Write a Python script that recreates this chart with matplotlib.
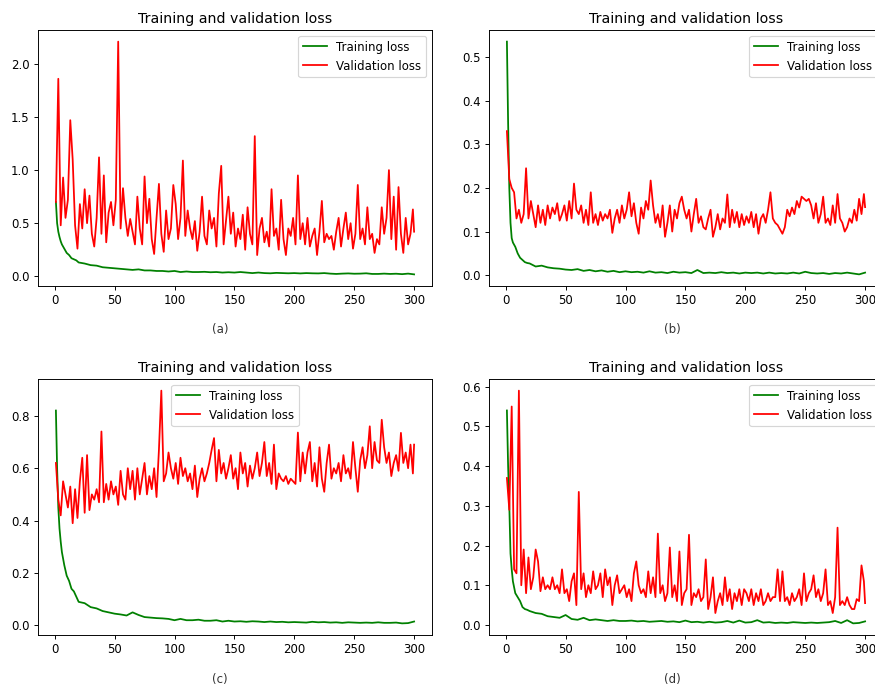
import matplotlib
matplotlib.use("Agg")
from matplotlib import pyplot as plt

# Epocas em que os valores foram lidos
val_epochs = list(range(1, 300, 2)) + [300]
train_epochs = [1, 2, 3, 4, 5, 6, 8, 10, 12, 14, 16, 18, 20] + list(range(25, 301, 5))

# (a)
train_a = [0.70, 0.50, 0.42, 0.37, 0.33, 0.30, 0.26, 0.22, 0.20, 0.17, 0.16, 0.15, 0.13,
           0.12, 0.105, 0.10, 0.085, 0.08, 0.075, 0.07, 0.065, 0.06, 0.065,
           0.055, 0.055, 0.05, 0.05, 0.045, 0.05, 0.04, 0.045, 0.04, 0.04,
           0.042, 0.038, 0.04, 0.035, 0.038, 0.035, 0.04, 0.035, 0.03, 0.035,
           0.03, 0.028, 0.032, 0.03, 0.028, 0.03, 0.027, 0.03, 0.028, 0.027,
           0.03, 0.025, 0.022, 0.025, 0.027, 0.024, 0.025, 0.028, 0.022, 0.022,
           0.025, 0.022, 0.024, 0.02, 0.025, 0.018]
val_a = [0.70, 1.86, 0.48, 0.93, 0.55, 0.72, 1.47, 1.10, 0.48, 0.26,
         0.68, 0.45, 0.82, 0.50, 0.76, 0.40, 0.28, 0.55, 1.12, 0.40,
         0.95, 0.32, 0.60, 0.70, 0.48, 0.72, 2.21, 0.45, 0.83, 0.55,
         0.38, 0.54, 0.42, 0.30, 0.75, 0.45, 0.30, 0.94, 0.50, 0.73,
         0.35, 0.21, 0.55, 0.87, 0.40, 0.23, 0.62, 0.35, 0.45, 0.86,
         0.68, 0.35, 0.55, 1.09, 0.38, 0.62, 0.45, 0.35, 0.52, 0.24,
         0.42, 0.75, 0.38, 0.30, 0.62, 0.45, 0.55, 0.28, 0.78, 1.04,
         0.30, 0.52, 0.75, 0.40, 0.60, 0.28, 0.45, 0.35, 0.58, 0.25,
         0.65, 0.40, 0.30, 1.32, 0.20, 0.45, 0.55, 0.32, 0.42, 0.28,
         0.82, 0.38, 0.45, 0.25, 0.72, 0.35, 0.20, 0.45, 0.38, 0.55,
         0.30, 0.95, 0.35, 0.50, 0.30, 0.55, 0.28, 0.38, 0.45, 0.20,
         0.42, 0.71, 0.32, 0.40, 0.35, 0.38, 0.25, 0.42, 0.55, 0.28,
         0.45, 0.60, 0.35, 0.50, 0.26, 0.40, 0.86, 0.35, 0.45, 0.30,
         0.65, 0.35, 0.40, 0.22, 0.35, 0.30, 0.65, 0.40, 0.55, 1.00,
         0.35, 0.75, 0.25, 0.84, 0.40, 0.22, 0.55, 0.30, 0.40, 0.63,
         0.42]

# (b)
train_b = [0.535, 0.35, 0.20, 0.12, 0.085, 0.075, 0.065, 0.05, 0.04, 0.035, 0.03, 0.028, 0.027,
           0.02, 0.022, 0.018, 0.016, 0.015, 0.013, 0.012, 0.014, 0.01, 0.012,
           0.009, 0.011, 0.008, 0.01, 0.007, 0.009, 0.007, 0.008, 0.006, 0.009,
           0.006, 0.007, 0.005, 0.008, 0.006, 0.007, 0.005, 0.012, 0.005, 0.006,
           0.005, 0.007, 0.005, 0.006, 0.004, 0.006, 0.005, 0.006, 0.004, 0.006,
           0.004, 0.005, 0.004, 0.006, 0.004, 0.008, 0.005, 0.004, 0.005, 0.003,
           0.005, 0.004, 0.006, 0.004, 0.002, 0.006]
val_b = [0.33, 0.22, 0.20, 0.19, 0.13, 0.15, 0.12, 0.14, 0.245, 0.13,
         0.17, 0.14, 0.11, 0.16, 0.12, 0.15, 0.115, 0.16, 0.13, 0.155,
         0.14, 0.165, 0.125, 0.14, 0.16, 0.125, 0.17, 0.13, 0.21, 0.15,
         0.14, 0.16, 0.12, 0.15, 0.115, 0.19, 0.12, 0.14, 0.115, 0.145,
         0.125, 0.14, 0.13, 0.15, 0.097, 0.13, 0.15, 0.12, 0.16, 0.13,
         0.15, 0.19, 0.135, 0.165, 0.12, 0.095, 0.155, 0.13, 0.17, 0.15,
         0.217, 0.16, 0.12, 0.14, 0.11, 0.16, 0.088, 0.12, 0.16, 0.10,
         0.15, 0.13, 0.165, 0.18, 0.15, 0.13, 0.15, 0.10, 0.14, 0.175,
         0.12, 0.135, 0.11, 0.105, 0.13, 0.15, 0.088, 0.11, 0.14, 0.105,
         0.13, 0.12, 0.185, 0.11, 0.15, 0.12, 0.145, 0.11, 0.14, 0.115,
         0.135, 0.12, 0.145, 0.11, 0.14, 0.095, 0.13, 0.14, 0.12, 0.15,
         0.19, 0.13, 0.12, 0.115, 0.105, 0.095, 0.11, 0.15, 0.135, 0.155,
         0.14, 0.17, 0.155, 0.18, 0.175, 0.17, 0.175, 0.16, 0.13, 0.165,
         0.12, 0.14, 0.18, 0.12, 0.13, 0.115, 0.16, 0.12, 0.186, 0.13,
         0.12, 0.10, 0.11, 0.13, 0.12, 0.15, 0.125, 0.175, 0.14, 0.186,
         0.156]

# (c)
train_c = [0.82, 0.60, 0.45, 0.37, 0.32, 0.28, 0.23, 0.19, 0.17, 0.14, 0.13, 0.11, 0.09,
           0.085, 0.07, 0.065, 0.055, 0.05, 0.045, 0.042, 0.038, 0.05, 0.04,
           0.032, 0.03, 0.028, 0.027, 0.025, 0.02, 0.025, 0.02, 0.02, 0.022,
           0.018, 0.018, 0.02, 0.015, 0.018, 0.015, 0.016, 0.014, 0.016, 0.015,
           0.013, 0.015, 0.013, 0.014, 0.012, 0.013, 0.012, 0.011, 0.014, 0.012,
           0.013, 0.011, 0.012, 0.01, 0.012, 0.011, 0.01, 0.011, 0.01, 0.012,
           0.01, 0.01, 0.011, 0.008, 0.009, 0.015]
val_c = [0.62, 0.48, 0.42, 0.55, 0.50, 0.45, 0.53, 0.39, 0.52, 0.41,
         0.55, 0.64, 0.43, 0.65, 0.44, 0.50, 0.48, 0.52, 0.47, 0.74,
         0.47, 0.54, 0.48, 0.55, 0.50, 0.53, 0.46, 0.59, 0.50, 0.48,
         0.60, 0.52, 0.59, 0.48, 0.60, 0.50, 0.56, 0.62, 0.50, 0.57,
         0.52, 0.60, 0.49, 0.67, 0.896, 0.55, 0.58, 0.66, 0.60, 0.56,
         0.62, 0.54, 0.64, 0.57, 0.60, 0.55, 0.58, 0.52, 0.61, 0.49,
         0.56, 0.60, 0.55, 0.58, 0.62, 0.67, 0.715, 0.55, 0.67, 0.58,
         0.62, 0.56, 0.60, 0.65, 0.56, 0.60, 0.52, 0.66, 0.58, 0.62,
         0.53, 0.61, 0.56, 0.60, 0.66, 0.57, 0.62, 0.70, 0.57, 0.62,
         0.54, 0.69, 0.52, 0.58, 0.56, 0.55, 0.57, 0.54, 0.56, 0.55,
         0.54, 0.736, 0.55, 0.66, 0.58, 0.66, 0.70, 0.55, 0.62, 0.53,
         0.68, 0.56, 0.51, 0.62, 0.69, 0.56, 0.60, 0.58, 0.62, 0.55,
         0.65, 0.58, 0.60, 0.56, 0.70, 0.60, 0.51, 0.63, 0.68, 0.60,
         0.65, 0.76, 0.60, 0.70, 0.63, 0.62, 0.785, 0.68, 0.62, 0.66,
         0.57, 0.62, 0.65, 0.59, 0.735, 0.62, 0.66, 0.60, 0.69, 0.58,
         0.69]

# (d)
train_d = [0.54, 0.40, 0.30, 0.18, 0.14, 0.11, 0.08, 0.07, 0.06, 0.045, 0.04, 0.038, 0.035,
           0.03, 0.028, 0.022, 0.02, 0.018, 0.025, 0.015, 0.013, 0.018, 0.012,
           0.014, 0.012, 0.01, 0.012, 0.01, 0.01, 0.011, 0.009, 0.01, 0.008,
           0.009, 0.01, 0.008, 0.009, 0.007, 0.011, 0.007, 0.008, 0.006, 0.008,
           0.006, 0.007, 0.01, 0.006, 0.011, 0.006, 0.007, 0.012, 0.006, 0.007,
           0.005, 0.006, 0.005, 0.007, 0.006, 0.005, 0.006, 0.005, 0.006, 0.007,
           0.01, 0.005, 0.012, 0.004, 0.005, 0.009]
val_d = [0.37, 0.29, 0.55, 0.14, 0.13, 0.59, 0.10, 0.19, 0.08, 0.17,
         0.09, 0.12, 0.19, 0.16, 0.085, 0.12, 0.09, 0.10, 0.09, 0.12,
         0.09, 0.10, 0.08, 0.14, 0.08, 0.09, 0.06, 0.11, 0.13, 0.05,
         0.335, 0.09, 0.13, 0.07, 0.10, 0.08, 0.135, 0.09, 0.10, 0.13,
         0.07, 0.14, 0.10, 0.12, 0.05, 0.10, 0.125, 0.08, 0.09, 0.10,
         0.07, 0.09, 0.06, 0.13, 0.16, 0.10, 0.08, 0.09, 0.07, 0.135,
         0.08, 0.12, 0.07, 0.23, 0.08, 0.10, 0.06, 0.08, 0.195, 0.07,
         0.10, 0.06, 0.185, 0.05, 0.08, 0.09, 0.227, 0.05, 0.08, 0.07,
         0.09, 0.06, 0.07, 0.165, 0.04, 0.07, 0.12, 0.03, 0.06, 0.08,
         0.05, 0.12, 0.06, 0.09, 0.04, 0.08, 0.06, 0.09, 0.05, 0.09,
         0.08, 0.06, 0.09, 0.05, 0.08, 0.06, 0.09, 0.05, 0.06, 0.08,
         0.06, 0.07, 0.07, 0.14, 0.06, 0.135, 0.06, 0.07, 0.05, 0.08,
         0.06, 0.07, 0.09, 0.05, 0.13, 0.06, 0.08, 0.09, 0.125, 0.07,
         0.09, 0.06, 0.08, 0.14, 0.05, 0.06, 0.03, 0.07, 0.245, 0.05,
         0.06, 0.05, 0.07, 0.05, 0.04, 0.04, 0.065, 0.06, 0.15, 0.11,
         0.055]

paineis = [
    (train_a, val_a, "(a)", "upper right"),
    (train_b, val_b, "(b)", "upper right"),
    (train_c, val_c, "(c)", "upper center"),
    (train_d, val_d, "(d)", "upper right"),
]

# Posicoes dos eixos em pixels (esq, topo); os da direita saem um pouco da figura
W, H = 875, 686
DPI = 85  # o original foi renderizado com tudo um pouco menor
posicoes = [(38, 30), (489, 30), (38, 379), (489, 379)]
rotulos = [(220, 330), (672, 330), (220, 679), (672, 679)]

fig = plt.figure(figsize=(W / DPI, H / DPI), dpi=DPI)

for (tr, va, letra, loc), (px, py), (lx, ly) in zip(paineis, posicoes, rotulos):
    ax = fig.add_axes([px / W, 1 - (py + 256) / H, 394 / W, 256 / H])
    ax.plot(train_epochs, tr, 'g', label='Training loss')
    ax.plot(val_epochs, va, 'r', label='Validation loss')
    ax.set_title('Training and validation loss')
    ax.legend(loc=loc)
    fig.text(lx / W, 1 - ly / H, letra, ha='center', va='center', fontsize=10, color='#333333')

plt.savefig("out.png", dpi=DPI)
